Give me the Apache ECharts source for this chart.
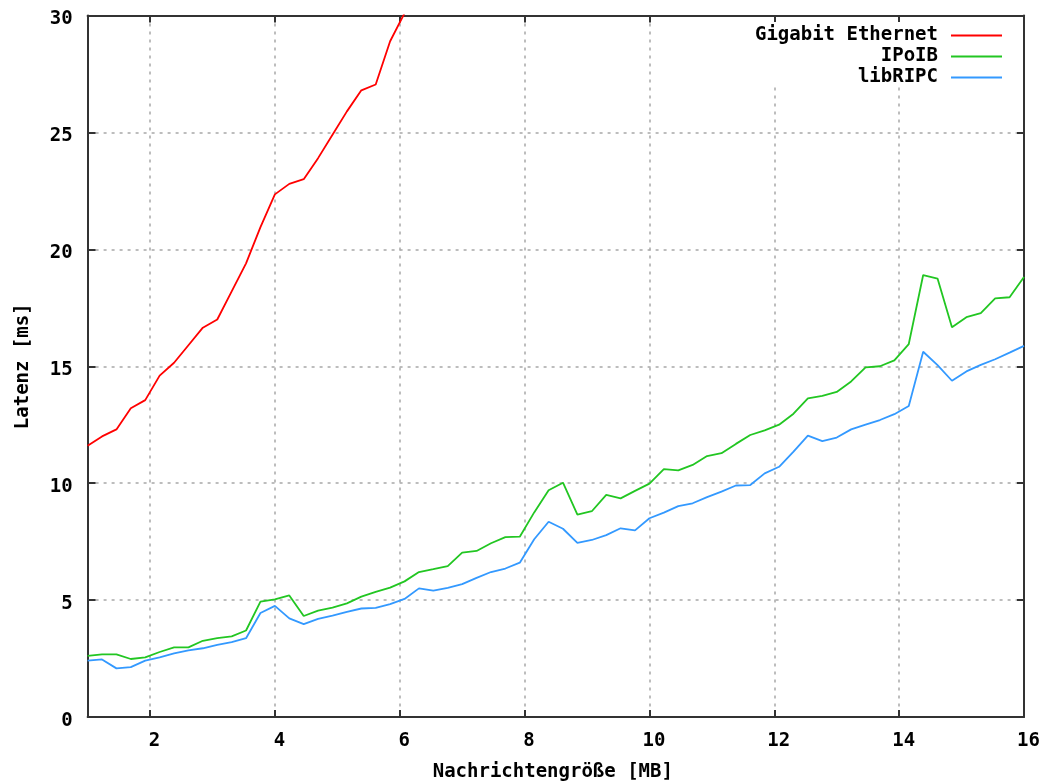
<!DOCTYPE html>
<html><head><meta charset="utf-8">
<script src="https://cdn.jsdelivr.net/npm/echarts@6/dist/echarts.min.js"></script>
<style>html,body{margin:0;padding:0;background:#fff}#c{width:1042px;height:781px}</style>
</head><body><div id="c"></div>
<script>
// Message sizes [MB]
const sizesMB = [1, 1.231, 1.462, 1.692, 1.923, 2.154, 2.385, 2.615, 2.846, 3.077, 3.308, 3.538, 3.769, 4,
  4.231, 4.462, 4.692, 4.923, 5.154, 5.385, 5.615, 5.846, 6.077, 6.308, 6.538, 6.769, 7,
  7.231, 7.462, 7.692, 7.923, 8.154, 8.385, 8.615, 8.846, 9.077, 9.308, 9.538, 9.769, 10,
  10.231, 10.462, 10.692, 10.923, 11.154, 11.385, 11.615, 11.846, 12.077, 12.308, 12.538, 12.769, 13,
  13.231, 13.462, 13.692, 13.923, 14.154, 14.385, 14.615, 14.846, 15.077, 15.308, 15.538, 15.769, 16];

// Latency [ms]
const gigabitEthernet = [11.6, 12.0, 12.3, 13.2, 13.55, 14.6, 15.15, 15.9, 16.65, 17.0, 18.2, 19.4, 20.95, 22.35,
  22.8, 23.0, 23.9, 24.9, 25.9, 26.8, 27.05, 28.9, 30.1, 31.5];

const ipoib = [2.61, 2.68, 2.68, 2.48, 2.55, 2.78, 2.98, 2.98, 3.26, 3.37, 3.45, 3.70, 4.93, 5.03,
  5.2, 4.32, 4.55, 4.68, 4.86, 5.15, 5.35, 5.53, 5.8, 6.2, 6.32, 6.45, 7.03,
  7.1, 7.43, 7.69, 7.71, 8.75, 9.7, 10.02, 8.65, 8.8, 9.5, 9.35, 9.67, 9.98,
  10.6, 10.55, 10.78, 11.16, 11.28, 11.68, 12.06, 12.26, 12.5, 12.97, 13.63, 13.73, 13.9,
  14.35, 14.95, 15.0, 15.25, 15.95, 18.9, 18.75, 16.67, 17.1, 17.27, 17.9, 17.95, 18.82];

const libripc = [2.41, 2.46, 2.08, 2.13, 2.41, 2.55, 2.72, 2.85, 2.94, 3.08, 3.20, 3.37, 4.45, 4.75,
  4.22, 3.97, 4.2, 4.34, 4.5, 4.64, 4.67, 4.83, 5.05, 5.5, 5.4, 5.52, 5.68,
  5.95, 6.2, 6.35, 6.6, 7.6, 8.35, 8.05, 7.45, 7.57, 7.78, 8.07, 7.98, 8.5,
  8.74, 9.02, 9.14, 9.4, 9.64, 9.9, 9.92, 10.42, 10.7, 11.35, 12.03, 11.8, 11.95,
  12.3, 12.5, 12.7, 12.95, 13.3, 15.62, 15.05, 14.38, 14.78, 15.06, 15.3, 15.58, 15.87];

const xTicks = [2, 4, 6, 8, 10, 12, 14, 16];

const seriesNames = ['Gigabit Ethernet', 'IPoIB', 'libRIPC'];
const seriesColors = ['#ff0000', '#22c622', '#3399ff'];
const seriesValues = [gigabitEthernet, ipoib, libripc];

const FONT = 'DejaVu Sans Mono';
const frame = {color: '#333', width: 2};
const gridLine = {color: '#a8a8a8', width: 1.5, type: [3, 5]};
const txt = {fontFamily: FONT, fontWeight: 'bold', fontSize: 19, color: '#000'};

const chart = echarts.init(document.getElementById('c'), null, {renderer: 'canvas'});
chart.setOption({
  backgroundColor: '#fff',
  animation: false,
  grid: {left: 87.6, right: 18, top: 15.5, bottom: 64, containLabel: false, outerBoundsMode: 'none'},
  legend: {
    orient: 'vertical', right: 32, top: 22, align: 'right',
    icon: 'rect', itemWidth: 51, itemHeight: 1.8, itemGap: 2,
    padding: [4, 8, 0, 10], backgroundColor: '#fff',
    selectedMode: false,
    textStyle: Object.assign({}, txt, {padding: [0, 8, 0, 0]}),
    data: seriesNames
  },
  xAxis: [{
    type: 'value', min: 1, max: 16, position: 'bottom',
    name: 'Nachrichtengröße [MB]', nameLocation: 'middle', nameGap: 46,
    nameTextStyle: Object.assign({}, txt, {padding: [0, 6, 0, 0]}),
    axisLine: {show: true, onZero: false, lineStyle: frame},
    axisTick: {show: true, inside: true, length: 7, customValues: xTicks, lineStyle: frame},
    axisLabel: Object.assign({customValues: xTicks, margin: 15, padding: [0, 0, 0, 9]}, txt),
    splitLine: {show: true, lineStyle: gridLine}
  }, {
    type: 'value', min: 1, max: 16, position: 'top',
    axisLine: {show: true, onZero: false, lineStyle: frame},
    axisTick: {show: true, inside: true, length: 7, customValues: xTicks, lineStyle: frame},
    axisLabel: {show: false},
    splitLine: {show: false}
  }],
  yAxis: [{
    type: 'value', min: 0, max: 30, interval: 5, position: 'left',
    name: 'Latenz [ms]', nameLocation: 'middle', nameGap: 55,
    nameTextStyle: txt,
    axisLine: {show: true, onZero: false, lineStyle: frame},
    axisTick: {show: true, inside: true, length: 8, lineStyle: frame},
    axisLabel: Object.assign({margin: 15, formatter: '{v|{value}}',
      rich: {v: Object.assign({padding: [8, 0, 0, 0]}, txt)}}, txt),
    splitLine: {show: true, lineStyle: gridLine}
  }, {
    type: 'value', min: 0, max: 30, interval: 5, position: 'right',
    axisLine: {show: true, onZero: false, lineStyle: frame},
    axisTick: {show: true, inside: true, length: 7, lineStyle: frame},
    axisLabel: {show: false},
    splitLine: {show: false}
  }],
  series: seriesNames.map((name, k) => ({
    name: name, type: 'line', xAxisIndex: 0, yAxisIndex: 0,
    symbol: 'none', clip: true,
    color: seriesColors[k],
    lineStyle: {color: seriesColors[k], width: 1.8},
    data: seriesValues[k].map((v, i) => [sizesMB[i], v])
  }))
});
</script></body></html>
